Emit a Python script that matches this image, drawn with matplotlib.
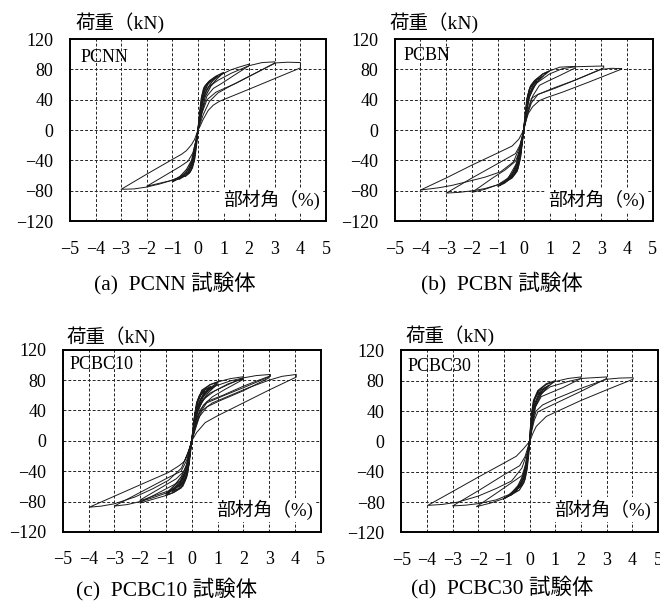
import matplotlib.pyplot as plt

# フォント: 数字は明朝風のセリフ、和文は Noto Sans CJK JP
plt.rcParams['font.family'] = ['Liberation Serif', 'Noto Sans CJK JP']
plt.rcParams['axes.unicode_minus'] = True

# 各試験体の荷重-部材角ループ（図から読み取った頂点、部材角 %, 荷重 kN）
# 1 ループ = 原点 -> ピーク -> 原点 の片側ループ
pcnn_pos = [
    ([0, 0.06, 0.13, 0.22, 0.35, 0.5, 0.38, 0.25, 0.14, 0.06, 0], [0, 22, 42, 55, 61, 65, 60, 50, 34, 14, 0]),
    ([0, 0.07, 0.15, 0.25, 0.4, 0.6, 0.75, 0.55, 0.35, 0.2, 0.08, 0], [0, 22, 44, 57, 63, 68, 71, 64, 54, 40, 16, 0]),
    ([0, 0.08, 0.17, 0.28, 0.45, 0.7, 1.0, 0.75, 0.5, 0.28, 0.12, 0], [0, 22, 45, 58, 65, 71, 76, 68, 58, 44, 18, 0]),
    ([0, 0.1, 0.2, 0.35, 0.6, 0.9, 1.25, 1.6, 2.0, 2.0, 1.4, 0.9, 0.6, 0.35, 0.15, 0],
     [0, 25, 48, 60, 67, 73, 79, 83, 87, 85, 72, 61, 55, 45, 24, 0]),
    ([0, 0.12, 0.25, 0.45, 0.8, 1.3, 2.0, 2.5, 3.0, 3.0, 2.0, 1.2, 0.78, 0.45, 0.2, 0],
     [0, 25, 47, 58, 66, 75, 85, 89, 90, 88, 71, 57, 49, 38, 20, 0]),
    ([0, 0.15, 0.35, 0.7, 1.5, 2.3, 3.0, 3.5, 4.0, 4.0, 3.0, 2.0, 1.2, 0.84, 0.6, 0.4, 0.2, 0.08, 0],
     [0, 22, 40, 50, 62, 76, 88.5, 89.5, 89, 82, 68, 54, 43, 38, 33, 26, 14, 5, 0]),
]
pcnn_neg = [
    ([0, -0.06, -0.13, -0.22, -0.35, -0.5, -0.38, -0.25, -0.14, -0.06, 0], [0, -20, -38, -50, -57, -61, -56, -46, -32, -13, 0]),
    ([0, -0.07, -0.15, -0.28, -0.45, -0.75, -0.55, -0.35, -0.2, -0.08, 0], [0, -20, -40, -53, -59, -65, -59, -50, -37, -15, 0]),
    ([0, -0.08, -0.17, -0.3, -0.5, -0.75, -1.0, -0.7, -0.45, -0.25, -0.1, 0], [0, -20, -42, -55, -60, -64, -68, -61, -52, -40, -17, 0]),
    ([0, -0.1, -0.2, -0.4, -0.7, -1.0, -1.5, -2.0, -2.0, -1.2, -0.7, -0.39, -0.2, -0.08, 0],
     [0, -22, -42, -56, -62, -66, -70, -74, -74, -58, -48, -41, -30, -14, 0]),
    ([0, -0.12, -0.25, -0.45, -0.8, -1.1, -1.5, -2.0, -2.5, -3.0, -3.0, -2.0, -0.97, -0.65, -0.45, -0.25, -0.13, 0],
     [0, -25, -44, -56, -63, -67, -71, -75, -77.5, -78, -78, -58, -38, -32, -27, -19, -12, 0]),
]

pcbn_pos = [
    ([0, 0.05, 0.12, 0.22, 0.35, 0.5, 0.38, 0.25, 0.13, 0.05, 0], [0, 18, 40, 54, 61, 65, 60, 50, 34, 14, 0]),
    ([0, 0.06, 0.14, 0.25, 0.42, 0.75, 0.55, 0.35, 0.18, 0.07, 0], [0, 19, 43, 57, 65, 71, 65, 55, 40, 16, 0]),
    ([0, 0.07, 0.16, 0.28, 0.45, 0.74, 1.0, 0.7, 0.45, 0.22, 0.08, 0], [0, 20, 45, 59, 66, 74, 78, 70, 60, 44, 17, 0]),
    ([0, 0.09, 0.22, 0.42, 0.74, 1.0, 1.4, 2.0, 2.0, 1.4, 0.9, 0.61, 0.35, 0.15, 0],
     [0, 28, 53, 65, 74, 78, 83, 84, 82, 72, 64, 59, 45, 22, 0]),
    ([0, 0.1, 0.25, 0.5, 1.0, 1.5, 2.0, 2.5, 3.1, 3.1, 2.0, 1.2, 0.55, 0.3, 0.12, 0],
     [0, 25, 50, 62, 74, 81, 83.5, 84, 84.5, 82, 66, 55, 47, 36, 18, 0]),
    ([0, 0.12, 0.3, 0.55, 1.2, 2.0, 3.0, 3.4, 3.8, 3.8, 2.5, 1.5, 0.9, 0.61, 0.35, 0.18, 0.07, 0],
     [0, 22, 42, 47, 56, 66, 80, 81.5, 81, 80.5, 63, 50, 43, 39, 31, 22, 10, 0]),
]
pcbn_neg = [
    ([0, -0.05, -0.12, -0.22, -0.35, -0.5, -0.38, -0.25, -0.13, -0.05, 0], [0, -15, -35, -50, -58, -63, -58, -48, -32, -12, 0]),
    ([0, -0.06, -0.14, -0.25, -0.45, -0.75, -0.55, -0.35, -0.18, -0.07, 0], [0, -16, -38, -54, -63, -69, -63, -53, -38, -14, 0]),
    ([0, -0.07, -0.15, -0.26, -0.45, -0.75, -1.0, -0.7, -0.45, -0.22, -0.08, 0], [0, -17, -35, -50, -62, -70, -74, -67, -57, -42, -16, 0]),
    ([0, -0.13, -0.26, -0.45, -0.7, -1.05, -1.5, -2.0, -2.0, -1.2, -0.7, -0.32, -0.15, -0.06, 0],
     [0, -21, -43, -60, -67, -72.6, -78, -82, -82, -63, -52, -41, -27, -12, 0]),
    ([0, -0.12, -0.3, -0.6, -1.0, -1.5, -2.0, -2.5, -3.0, -3.0, -2.0, -1.0, -0.32, -0.15, -0.06, 0],
     [0, -20, -45, -63, -72, -77, -80, -82, -83, -83, -63, -44, -31, -20, -9, 0]),
    ([0, -0.15, -0.4, -0.9, -1.5, -2.2, -2.8, -3.3, -4.0, -4.0, -3.0, -2.0, -1.0, -0.45, -0.19, -0.08, 0],
     [0, -22, -42, -55, -62, -68, -73, -76, -79, -79, -63, -46, -30, -21, -12, -5, 0]),
]

pcbc10_pos = [
    ([0, 0.05, 0.1, 0.19, 0.3, 0.5, 0.35, 0.22, 0.12, 0.05, 0], [0, 15, 30, 50, 60, 66, 60, 50, 35, 14, 0]),
    ([0, 0.06, 0.12, 0.22, 0.39, 0.75, 0.5, 0.3, 0.16, 0.06, 0], [0, 15, 32, 52, 65, 72, 64, 52, 36, 13, 0]),
    ([0, 0.07, 0.14, 0.25, 0.42, 0.71, 1.04, 0.7, 0.45, 0.22, 0.08, 0], [0, 16, 34, 54, 66, 74, 78, 69, 58, 42, 14, 0]),
    ([0, 0.08, 0.18, 0.35, 0.6, 1.0, 0.65, 0.4, 0.2, 0.07, 0], [0, 14, 36, 55, 66, 75, 64, 52, 36, 12, 0]),
    ([0, 0.09, 0.19, 0.39, 0.71, 1.04, 1.5, 2.0, 2.0, 1.4, 0.71, 0.4, 0.2, 0.07, 0],
     [0, 24, 50, 67, 74, 78, 82, 84.5, 83, 74, 63, 52, 36, 13, 0]),
    ([0, 0.1, 0.25, 0.5, 0.9, 1.4, 2.0, 2.0, 1.3, 0.8, 0.45, 0.22, 0.08, 0],
     [0, 18, 42, 56, 66, 75, 82, 81, 68, 58, 47, 32, 12, 0]),
    ([0, 0.1, 0.22, 0.45, 0.9, 1.5, 2.0, 2.5, 3.05, 3.05, 2.0, 1.2, 0.58, 0.3, 0.12, 0],
     [0, 20, 45, 62, 72, 79, 83, 86, 87.5, 85, 70, 59, 50, 36, 15, 0]),
    ([0, 0.12, 0.3, 0.6, 1.2, 2.0, 2.6, 3.0, 3.0, 2.0, 1.1, 0.6, 0.3, 0.12, 0],
     [0, 18, 40, 52, 60, 72, 80, 85, 83, 66, 53, 45, 32, 13, 0]),
    ([0, 0.15, 0.4, 0.8, 1.5, 2.2, 3.0, 3.5, 4.05, 4.05, 3.0, 2.0, 0.97, 0.52, 0.19, 0.07, 0],
     [0, 20, 40, 50, 60, 70, 80, 85, 87.5, 84, 67, 50, 32.5, 24, 11, 4, 0]),
]
pcbc10_neg = [
    ([0, -0.05, -0.1, -0.18, -0.3, -0.5, -0.35, -0.22, -0.12, -0.05, 0], [0, -15, -30, -45, -55, -61, -55, -45, -31, -12, 0]),
    ([0, -0.06, -0.12, -0.2, -0.35, -0.75, -0.5, -0.3, -0.16, -0.06, 0], [0, -15, -32, -48, -60, -67, -58, -47, -33, -12, 0]),
    ([0, -0.07, -0.14, -0.25, -0.42, -0.7, -1.0, -0.7, -0.45, -0.22, -0.08, 0], [0, -16, -34, -52, -62, -68, -72, -63, -53, -38, -14, 0]),
    ([0, -0.08, -0.18, -0.35, -0.6, -1.0, -0.65, -0.4, -0.2, -0.07, 0], [0, -15, -36, -53, -62, -70, -58, -47, -32, -11, 0]),
    ([0, -0.09, -0.15, -0.41, -0.7, -1.05, -1.5, -2.0, -2.0, -1.2, -0.7, -0.35, -0.18, -0.07, 0],
     [0, -21, -42, -62, -68, -72.6, -77, -82, -81, -67, -58, -51, -36, -14, 0]),
    ([0, -0.1, -0.22, -0.5, -0.9, -1.5, -2.0, -2.0, -1.2, -0.6, -0.3, -0.15, -0.06, 0],
     [0, -18, -40, -58, -66, -73, -79, -78, -62, -50, -40, -27, -10, 0]),
    ([0, -0.1, -0.25, -0.5, -1.0, -1.6, -2.0, -2.5, -3.0, -3.0, -2.0, -1.0, -0.41, -0.2, -0.08, 0],
     [0, -18, -42, -60, -69, -76, -80, -84, -86, -86, -68, -50, -40, -26, -10, 0]),
    ([0, -0.15, -0.4, -0.9, -1.5, -2.2, -3.0, -3.5, -3.97, -3.97, -3.0, -2.0, -0.92, -0.5, -0.28, -0.1, 0],
     [0, -16, -36, -52, -63, -74, -83, -86, -87.5, -87.5, -73, -58, -42, -33, -27, -12, 0]),
]

pcbc30_pos = [
    ([0, 0.04, 0.1, 0.18, 0.3, 0.5, 0.35, 0.22, 0.12, 0.05, 0], [0, 20, 40, 55, 63, 67, 62, 52, 36, 15, 0]),
    ([0, 0.05, 0.12, 0.2, 0.35, 0.75, 0.5, 0.3, 0.16, 0.06, 0], [0, 20, 42, 56, 66, 74, 67, 56, 40, 15, 0]),
    ([0, 0.06, 0.15, 0.32, 0.65, 1.0, 0.7, 0.45, 0.22, 0.08, 0], [0, 33, 54, 67, 76, 80, 72, 62, 46, 17, 0]),
    ([0, 0.06, 0.15, 0.32, 0.65, 1.0, 1.5, 2.0, 2.0, 1.3, 0.8, 0.45, 0.22, 0.08, 0],
     [0, 30, 52, 66, 75, 79, 83, 85, 83, 71, 64, 59, 45, 18, 0]),
    ([0, 0.08, 0.2, 0.4, 0.8, 1.5, 2.0, 2.5, 3.0, 3.0, 2.0, 1.0, 0.32, 0.18, 0.07, 0],
     [0, 25, 48, 62, 72, 79, 83, 84, 85, 83, 66, 50, 39, 28, 12, 0]),
    ([0, 0.1, 0.25, 0.5, 1.0, 2.0, 3.0, 3.5, 4.03, 4.03, 3.0, 2.0, 0.65, 0.26, 0.13, 0.05, 0],
     [0, 22, 40, 48, 56, 70, 82, 83.5, 84, 82, 68, 54, 33, 20, 11, 4, 0]),
]
pcbc30_neg = [
    ([0, -0.04, -0.1, -0.18, -0.3, -0.5, -0.35, -0.22, -0.12, -0.05, 0], [0, -18, -36, -50, -58, -63, -58, -48, -33, -13, 0]),
    ([0, -0.05, -0.12, -0.22, -0.4, -0.75, -0.5, -0.3, -0.16, -0.06, 0], [0, -18, -38, -54, -64, -71, -64, -53, -37, -14, 0]),
    ([0, -0.06, -0.13, -0.25, -0.39, -0.7, -1.03, -0.7, -0.45, -0.22, -0.08, 0], [0, -18, -32, -50, -58, -70, -76, -68, -58, -42, -15, 0]),
    ([0, -0.07, -0.13, -0.25, -0.39, -0.7, -1.03, -1.5, -2.07, -2.07, -1.2, -0.6, -0.3, -0.15, -0.06, 0],
     [0, -18, -32, -50, -58, -70, -75.6, -81, -86, -86, -66, -52, -45, -30, -12, 0]),
    ([0, -0.08, -0.2, -0.4, -0.8, -1.3, -2.0, -2.5, -3.0, -3.0, -2.0, -1.0, -0.39, -0.18, -0.07, 0],
     [0, -18, -40, -58, -70, -77, -82, -84, -85, -85, -65, -44, -32, -20, -8, 0]),
    ([0, -0.1, -0.3, -0.7, -1.3, -2.0, -2.8, -3.4, -3.97, -3.97, -3.0, -2.0, -1.0, -0.52, -0.25, -0.1, 0],
     [0, -15, -35, -52, -62, -72, -80, -83, -84.3, -84.3, -66, -47, -28.5, -19.5, -10, -4, 0]),
]

names = ['PCNN', 'PCBN', 'PCBC10', 'PCBC30']
captions = ['(a)  PCNN 試験体', '(b)  PCBN 試験体', '(c)  PCBC10 試験体', '(d)  PCBC30 試験体']
all_loops = [pcnn_pos + pcnn_neg, pcbn_pos + pcbn_neg, pcbc10_pos + pcbc10_neg, pcbc30_pos + pcbc30_neg]

x_ticks = list(range(-5, 6))
y_ticks = list(range(-120, 121, 40))

fig = plt.figure(figsize=(6.6, 6.01), dpi=100)

# 各パネルの位置 [left, bottom, width, height]
rects = [
    [0.106, 0.632, 0.388, 0.303],
    [0.598, 0.632, 0.391, 0.303],
    [0.095, 0.115, 0.391, 0.303],
    [0.608, 0.114, 0.389, 0.303],
]
ylabel_pos = [(0.02, 1.09), (-0.02, 1.09), (0.016, 1.073), (0.016, 1.082)]
name_pos = [(0.04, 0.90), (0.035, 0.91), (0.028, 0.918), (0.023, 0.914)]
xlabel_pos = [(0.977, 0.115), (0.969, 0.115), (0.971, 0.121), (0.972, 0.126)]
caption_pos = [(0.265, 0.529), (0.761, 0.529), (0.253, 0.02), (0.761, 0.023)]

for i in range(4):
    ax = fig.add_axes(rects[i])
    for x, y in all_loops[i]:
        small = max(abs(v) for v in x) <= 1.05
        ax.plot(x, y, color='#1a1a1a', lw=0.9 if small else 0.7, zorder=2)

    ax.set_xlim(-5, 5)
    ax.set_ylim(-120, 120)
    ax.set_xticks(x_ticks)
    ax.set_yticks(y_ticks)
    ax.tick_params(length=0, labelsize=13)
    ax.tick_params(axis='x', pad=14)
    ax.tick_params(axis='y', pad=12)
    ax.grid(True, linestyle=(0, (3, 2)), color='#222222', linewidth=0.7)
    for s in ax.spines.values():
        s.set_linewidth(1.4)

    ax.text(ylabel_pos[i][0], ylabel_pos[i][1], '荷重（kN)', transform=ax.transAxes,
            ha='left', va='center', fontsize=14)
    ax.text(name_pos[i][0], name_pos[i][1], names[i], transform=ax.transAxes,
            ha='left', va='center', fontsize=13)
    ax.text(xlabel_pos[i][0], xlabel_pos[i][1], '部材角（%)', transform=ax.transAxes,
            ha='right', va='center', fontsize=13.5, zorder=3,
            bbox=dict(facecolor='white', edgecolor='none', pad=1.5))
    fig.text(caption_pos[i][0], caption_pos[i][1], captions[i], ha='center', va='center', fontsize=15.5)

fig.savefig('out.png', dpi=100)
